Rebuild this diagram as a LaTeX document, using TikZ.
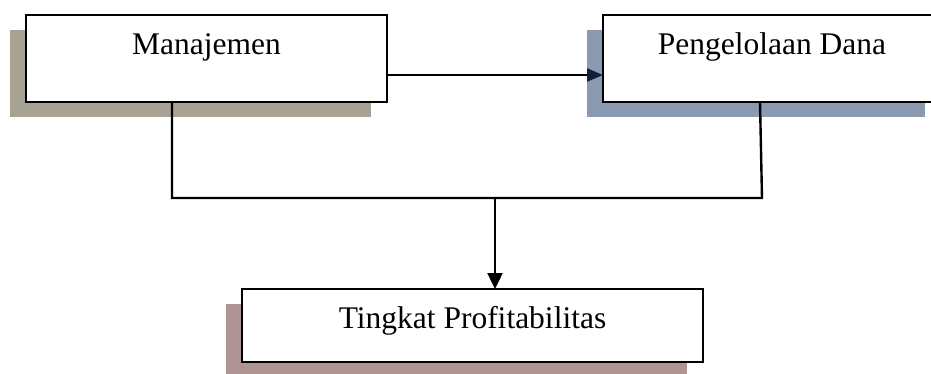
\documentclass[tikz,border=0pt]{standalone}
\usepackage{fontspec}
\setmainfont{Liberation Serif}
\usetikzlibrary{arrows.meta,shadows}

\definecolor{shadeA}{HTML}{A6A394}
\definecolor{shadeB}{HTML}{8B9AB0}
\definecolor{shadeC}{HTML}{B09393}
\definecolor{tipnavy}{HTML}{0F1F3C}

\begin{document}
\begin{tikzpicture}[x=1pt,y=-1pt,
  box/.style={draw=black, line width=2.4pt, fill=white, anchor=north west,
    outer sep=0pt, inner xsep=0pt, inner ysep=17pt, text height=22pt,
    font=\fontsize{31.5}{36}\selectfont},
  shade/.style={drop shadow={shadow xshift=-16pt, shadow yshift=-15pt,
    fill=#1, opacity=1}},
  conn/.style={line width=2.4pt, draw=black},
  arr/.style={-{Triangle[length=16pt,width=15pt]}},
  navyarr/.style={-{Triangle[length=16pt,width=13pt,color=tipnavy]}}]

\useasboundingbox (0,0) rectangle (931,373);

% the three blocks, each with its coloured offset shadow
\node[box, shade=shadeA, minimum width=361pt, text depth=31pt] (m) at (26,15) {Manajemen};
\node[box, shade=shadeB, minimum width=338pt, text depth=31pt] (p) at (603,15) {Pengelolaan Dana};
\node[box, shade=shadeC, minimum width=461pt, text depth=17pt] (t) at (242,289) {Tingkat Profitabilitas};

% management feeds fund handling
\draw[conn, navyarr] ([yshift=-16.5pt]m.east) -- ([yshift=-16.5pt]p.west);

% both blocks join into one line that points down to profitability
\coordinate (jl) at (172,198);
\coordinate (jr) at (762,198);
\coordinate (j) at (495,198);
\draw[conn] ([xshift=-34.5pt]m.south) -- (jl) -- (jr) -- ([xshift=-12pt]p.south);
\draw[conn, arr] (j) -- (j |- t.north);
\end{tikzpicture}
\end{document}
